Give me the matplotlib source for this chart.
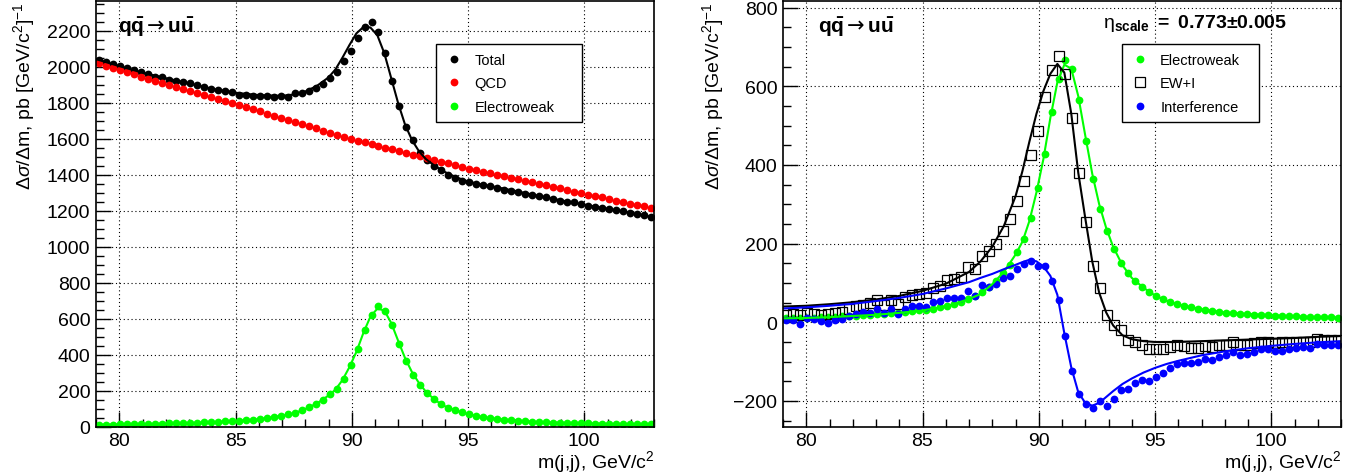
import matplotlib
matplotlib.use("Agg")
import matplotlib.pyplot as plt
from matplotlib.ticker import MultipleLocator
import numpy as np

plt.rcParams["font.family"] = ["Liberation Sans", "DejaVu Sans"]
plt.rcParams["mathtext.fontset"] = "custom"
plt.rcParams["mathtext.rm"] = "Liberation Sans"
plt.rcParams["mathtext.it"] = "Liberation Sans:italic"
plt.rcParams["mathtext.bf"] = "Liberation Sans:bold"
plt.rcParams["mathtext.sf"] = "DejaVu Sans"
plt.rcParams["mathtext.fallback"] = "stixsans"

# binning of the m(j,j) histograms, GeV/c^2
m_lo, m_hi, nbins = 79.0, 103.0, 80

# --- histograms (pb per GeV/c^2), one value per bin ---
total = [2039, 2028, 2015, 2006, 1993, 1980, 1969, 1959, 1944, 1944,
         1928, 1922, 1913, 1907, 1898, 1889, 1876, 1872, 1865, 1857,
         1844, 1844, 1839, 1839, 1835, 1830, 1835, 1831, 1852, 1852,
         1867, 1880, 1904, 1937, 1969, 2030, 2089, 2157, 2219, 2246,
         2191, 2074, 1922, 1783, 1663, 1593, 1520, 1481, 1450, 1426,
         1400, 1381, 1367, 1357, 1350, 1344, 1337, 1328, 1315, 1311,
         1306, 1293, 1287, 1281, 1274, 1265, 1254, 1250, 1246, 1239,
         1228, 1219, 1213, 1207, 1204, 1196, 1189, 1183, 1174, 1163]

qcd = [2018, 2006, 1993, 1981, 1970, 1957, 1945, 1934, 1922, 1910,
       1899, 1887, 1876, 1864, 1853, 1842, 1830, 1819, 1808, 1797,
       1786, 1774, 1762, 1751, 1739, 1727, 1716, 1704, 1692, 1681,
       1669, 1657, 1645, 1634, 1622, 1610, 1599, 1589, 1580, 1569,
       1559, 1550, 1540, 1530, 1520, 1511, 1501, 1491, 1482, 1472,
       1462, 1453, 1443, 1434, 1425, 1417, 1408, 1400, 1391, 1383,
       1374, 1366, 1357, 1349, 1340, 1332, 1323, 1315, 1306, 1298,
       1289, 1281, 1273, 1264, 1256, 1248, 1239, 1231, 1223, 1213]

ew = [10, 11, 11, 12, 12, 13, 14, 14, 15, 16,
      17, 18, 19, 20, 21, 23, 24, 26, 28, 30,
      32, 35, 38, 42, 46, 52, 59, 67, 76, 89,
      106, 125, 145, 178, 211, 266, 341, 428, 536, 619,
      667, 644, 564, 460, 364, 288, 231, 186, 151, 125,
      105, 89, 78, 68, 59, 52, 47, 42, 38, 34,
      31, 28, 25, 24, 23, 21, 20, 19, 19, 18,
      17, 16, 15, 15, 14, 14, 13, 13, 13, 12]

ew_i = [19, 21, 18, 24, 21, 19, 20, 23, 27, 35,
        41, 44, 49, 56, 44, 57, 46, 65, 70, 73,
        74, 88, 93, 108, 110, 114, 140, 135, 169, 182,
        200, 232, 262, 308, 360, 425, 487, 574, 642, 676,
        631, 519, 380, 256, 144, 87, 19, -8, -19, -44,
        -51, -57, -69, -69, -69, -63, -59, -61, -66, -66,
        -61, -63, -59, -57, -51, -59, -57, -52, -51, -51,
        -52, -51, -51, -49, -49, -51, -42, -46, -44, -44]

interf = [7, 7, -4, 10, 8, 3, -2, 7, 8, 17,
          21, 25, 24, 34, 23, 34, 21, 35, 41, 41,
          38, 52, 54, 61, 62, 61, 80, 66, 95, 91,
          97, 112, 118, 135, 147, 155, 144, 143, 106, 57,
          -35, -125, -183, -207, -219, -200, -213, -195, -171, -169,
          -154, -146, -149, -138, -128, -116, -107, -104, -104, -100,
          -93, -95, -89, -84, -75, -84, -80, -75, -69, -69,
          -73, -73, -69, -66, -62, -66, -56, -57, -58, -57]

# --- fitted curves ---
m_fit = [79, 80, 81, 82, 83, 84, 85, 86, 87, 87.5,
         88, 88.5, 89, 89.3, 89.6, 89.9, 90.2, 90.5, 90.8, 91.1,
         91.4, 91.7, 92.0, 92.3, 92.6, 92.9, 93.2, 93.6, 94, 94.5,
         95, 95.5, 96, 97, 98, 99, 100, 101, 102, 103]

total_fit = [2042, 2003, 1967, 1936, 1907, 1877, 1855, 1842, 1838, 1845,
             1862, 1893, 1940, 1985, 2050, 2120, 2185, 2220, 2218, 2175,
             2075, 1935, 1795, 1675, 1590, 1528, 1485, 1446, 1415, 1385,
             1362, 1347, 1336, 1310, 1283, 1257, 1233, 1210, 1188, 1162]

ew_fit = [10, 11, 13, 16, 19, 24, 30, 40, 59, 72,
          97, 128, 172, 205, 258, 330, 415, 520, 610, 655,
          645, 575, 475, 378, 300, 240, 192, 145, 113, 88,
          68, 55, 45, 33, 25, 21, 18, 15, 13, 12]

ew_i_fit = [40, 42, 46, 51, 58, 67, 80, 98, 128, 155,
            192, 245, 320, 385, 460, 530, 588, 632, 657, 635,
            530, 380, 265, 155, 75, 25, -8, -33, -43, -48,
            -50, -50, -50, -48, -46, -44, -42, -40, -37, -35]

interf_fit = [35, 38, 42, 47, 54, 62, 72, 86, 102, 113,
              123, 135, 146, 153, 159, 155, 142, 118, 70, -28,
              -115, -178, -205, -212, -205, -190, -175, -157, -143, -128,
              -116, -106, -98, -84, -74, -66, -60, -55, -51, -48]

eta_scale = "0.773{\\pm}0.005"

edges = np.linspace(m_lo, m_hi, nbins + 1)
m = 0.5 * (edges[:-1] + edges[1:])

ylabel = r"$\Delta\sigma/\Delta$m, pb [GeV/$\mathrm{c}^{2}$]$^{-1}$"
xlabel = r"m(j,j), GeV/$\mathrm{c}^{2}$"
process = r"$\mathbf{q\bar{q}}{\mathsf{\rightarrow}}\mathbf{u\bar{u}}$"


def style(ax, ymin, ymax):
    ax.set_xlim(m_lo, m_hi)
    ax.set_ylim(ymin, ymax)
    ax.xaxis.set_major_locator(MultipleLocator(5))
    ax.xaxis.set_minor_locator(MultipleLocator(1))
    ax.yaxis.set_major_locator(MultipleLocator(200))
    ax.yaxis.set_minor_locator(MultipleLocator(50))
    ax.tick_params(which="both", direction="in", top=False, right=False,
                   labelsize=14, width=1)
    ax.tick_params(which="major", length=11, pad=4)
    ax.tick_params(which="minor", length=5.5)
    ax.grid(True, which="major", color="black", linestyle=(0, (1, 2.5)), linewidth=0.8)
    for s in ax.spines.values():
        s.set_linewidth(1.2)
    ax.set_ylabel(ylabel, loc="top", fontsize=14)
    ax.set_xlabel(xlabel, loc="right", fontsize=14, labelpad=-1)


def legend(ax, x0, y1, w):
    leg = ax.legend(loc="upper left", bbox_to_anchor=(x0, y1, w, 0), mode="expand",
                    borderaxespad=0, fontsize=10.5, handlelength=1.2,
                    handletextpad=0.8, borderpad=0.6, labelspacing=0.65,
                    fancybox=False, edgecolor="black", framealpha=1, numpoints=1)
    leg.get_frame().set_linewidth(1.0)


fig = plt.figure(figsize=(13.67, 4.77), dpi=100)
ax1 = fig.add_axes([96 / 1367, 1 - 427.5 / 477, 558 / 1367, 425.5 / 477])
ax2 = fig.add_axes([783 / 1367, 1 - 427.5 / 477, 558 / 1367, 425.5 / 477])

dot = dict(linestyle="none", marker="o", markersize=5.6, markeredgewidth=0)

# left: total, QCD and electroweak
ax1.plot(m, total, color="black", label="Total", **dot)
ax1.plot(m, qcd, color="#ff0000", label="QCD", **dot)
ax1.plot(m, ew, color="#00ff00", label="Electroweak", **dot)
ax1.plot(m_fit, total_fit, color="black", linewidth=1.5)
ax1.plot(m_fit, ew_fit, color="#00ff00", linewidth=1.5)
style(ax1, 0, 2365)
ax1.yaxis.set_label_coords(-0.105, 1)
legend(ax1, 0.61, 0.899, 0.261)
ax1.text(0.039, 0.927, process, transform=ax1.transAxes, fontsize=15, va="baseline")

# right: electroweak, EW + interference, interference
ax2.plot(m, ew, color="#00ff00", label="Electroweak", **dot)
ax2.plot(m, ew_i, linestyle="none", marker="s", markersize=6.5, markerfacecolor="none",
         markeredgecolor="black", markeredgewidth=0.9, label="EW+I")
ax2.plot(m, interf, color="#0000ff", label="Interference", **dot)
ax2.plot(m_fit, ew_fit, color="#00ff00", linewidth=1.5)
ax2.plot(m_fit, ew_i_fit, color="black", linewidth=1.5)
ax2.plot(m_fit, interf_fit, color="#0000ff", linewidth=1.5)
style(ax2, -265, 817)
ax2.yaxis.set_label_coords(-0.102, 1)
legend(ax2, 0.608, 0.899, 0.245)
ax2.text(0.063, 0.927, process, transform=ax2.transAxes, fontsize=15, va="baseline")
ax2.text(0.573, 0.939, r"$\mathrm{\eta}_{\mathbf{scale}}\mathbf{\ =\ " + eta_scale + "}$",
         transform=ax2.transAxes, fontsize=14, va="baseline")

fig.savefig("out.png", dpi=100)
